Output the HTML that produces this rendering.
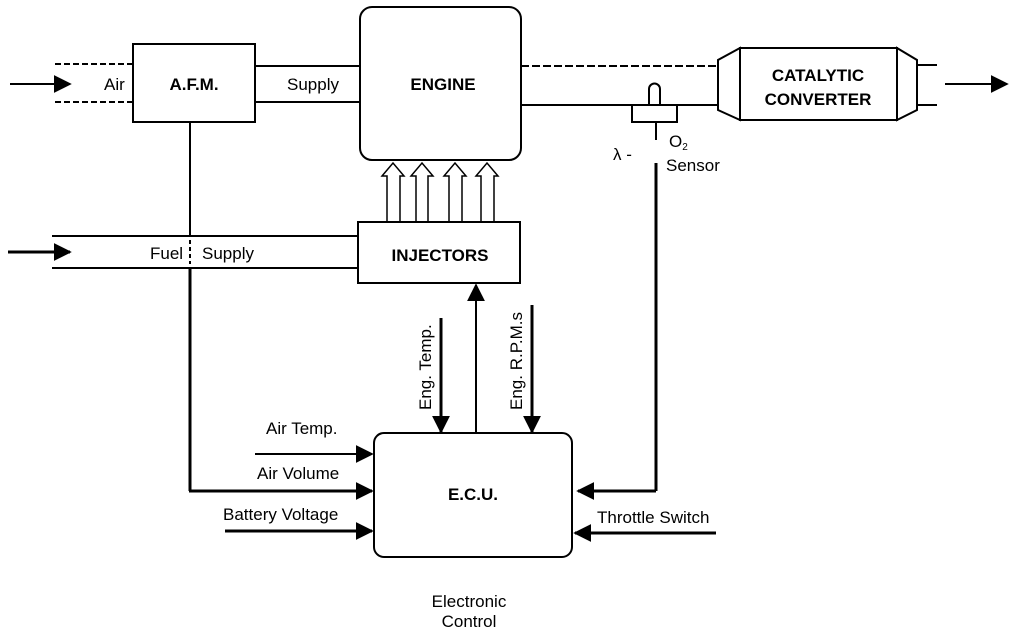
<!DOCTYPE html>
<html><head><style>
body{margin:0;background:#fff}
svg text{font-family:"Liberation Sans",sans-serif;fill:#000}
</style></head><body>
<svg width="1024" height="636" viewBox="0 0 1024 636" xmlns="http://www.w3.org/2000/svg">
<defs>
<marker id="a" viewBox="0 0 10 10" refX="9" refY="5" markerWidth="18" markerHeight="18" markerUnits="userSpaceOnUse" orient="auto"><path d="M0,0L10,5L0,10z"/></marker>
</defs>
<g stroke="#000" fill="none" stroke-width="2">
<line x1="55" y1="64" x2="133" y2="64" stroke-dasharray="6,3"/>
<line x1="55" y1="102" x2="133" y2="102" stroke-dasharray="6,3"/>
<line x1="10" y1="84" x2="70" y2="84" marker-end="url(#a)"/>
<rect x="133" y="44" width="122" height="78"/>
<line x1="255" y1="66" x2="360" y2="66"/>
<line x1="255" y1="102" x2="360" y2="102"/>
<rect x="360" y="7" width="161" height="153" rx="12"/>
<line x1="521" y1="66" x2="718" y2="66" stroke-dasharray="8,3"/>
<line x1="521" y1="105" x2="718" y2="105"/>
<path d="M740,48 L718,60 L718,110 L740,120 Z"/>
<rect x="740" y="48" width="157" height="72"/>
<path d="M897,48 L917,60 L917,110 L897,120 Z"/>
<line x1="917" y1="65" x2="937" y2="65"/>
<line x1="917" y1="105" x2="937" y2="105"/>
<line x1="945" y1="84" x2="1007" y2="84" marker-end="url(#a)"/>
<path d="M649,104 L649,89 A5.5,5.5 0 0 1 660,89 L660,104"/>
<rect x="632" y="105" width="45" height="17"/>
<line x1="656" y1="122" x2="656" y2="140" />
<line x1="656" y1="163" x2="656" y2="491" stroke-width="3"/>
<line x1="656" y1="491" x2="578" y2="491" stroke-width="3" marker-end="url(#a)"/>
<line x1="52" y1="236" x2="358" y2="236"/>
<line x1="52" y1="268" x2="358" y2="268"/>
<line x1="8" y1="252" x2="70" y2="252" stroke-width="3" marker-end="url(#a)"/>
<rect x="358" y="222" width="162" height="61"/>
<line x1="190" y1="122" x2="190" y2="236" stroke-width="2"/>
<line x1="190" y1="240" x2="190" y2="264" stroke-dasharray="4,3"/>
<line x1="190" y1="268" x2="190" y2="491" stroke-width="3"/>
<line x1="189" y1="491" x2="372" y2="491" stroke-width="3" marker-end="url(#a)"/>
<g stroke-width="1.5">
<path d="M387,222 V176 H382 L393,163 L404,176 H400 V222"/>
<path d="M416,222 V176 H411 L422,163 L433,176 H428 V222"/>
<path d="M449,222 V176 H444 L455,163 L466,176 H462 V222"/>
<path d="M481,222 V176 H476 L487,163 L498,176 H494 V222"/>
</g>
<rect x="374" y="433" width="198" height="124" rx="10"/>
<line x1="255" y1="454" x2="372" y2="454" marker-end="url(#a)"/>
<line x1="225" y1="531" x2="372" y2="531" stroke-width="3" marker-end="url(#a)"/>
<line x1="716" y1="533" x2="575" y2="533" stroke-width="3" marker-end="url(#a)"/>
<line x1="441" y1="318" x2="441" y2="432" stroke-width="3" marker-end="url(#a)"/>
<line x1="476" y1="433" x2="476" y2="285" stroke-width="2" marker-end="url(#a)"/>
<line x1="532" y1="305" x2="532" y2="432" stroke-width="3" marker-end="url(#a)"/>
</g>
<g font-size="17">
<text x="104" y="90">Air</text>
<text x="194" y="90" font-weight="bold" text-anchor="middle">A.F.M.</text>
<text x="287" y="90">Supply</text>
<text x="443" y="90" font-weight="bold" text-anchor="middle">ENGINE</text>
<text x="818" y="81" font-weight="bold" text-anchor="middle">CATALYTIC</text>
<text x="818" y="105" font-weight="bold" text-anchor="middle">CONVERTER</text>
<text x="613" y="160">λ -</text>
<text x="669" y="147">O<tspan font-size="10" dy="3">2</tspan></text>
<text x="666" y="171">Sensor</text>
<text x="150" y="259">Fuel</text>
<text x="202" y="259">Supply</text>
<text x="440" y="261" font-weight="bold" text-anchor="middle">INJECTORS</text>
<text x="266" y="434">Air Temp.</text>
<text x="257" y="479">Air Volume</text>
<text x="223" y="520">Battery Voltage</text>
<text x="597" y="523">Throttle Switch</text>
<text x="473" y="500" font-weight="bold" text-anchor="middle">E.C.U.</text>
<text x="469" y="607" text-anchor="middle">Electronic</text>
<text x="469" y="627" text-anchor="middle">Control</text>
<text transform="translate(431,410) rotate(-90)">Eng. Temp.</text>
<text transform="translate(522,410) rotate(-90)">Eng. R.P.M.s</text>
</g>
</svg>
</body></html>
